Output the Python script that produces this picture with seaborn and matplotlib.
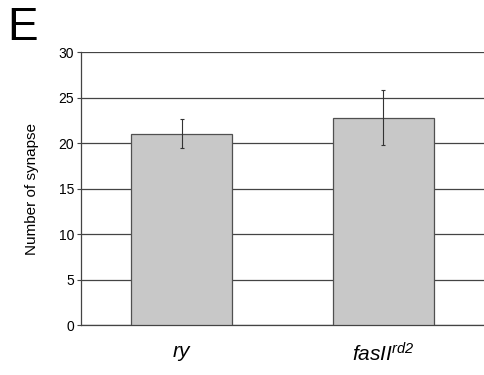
import matplotlib
matplotlib.use("Agg")
import matplotlib.pyplot as plt
import seaborn as sns
import numpy as np

categories = ["ry", "fasII$^{rd2}$"]
means = [21.0, 22.8]
errors = [1.6, 3.0]
yticks = [0, 5, 10, 15, 20, 25, 30]

sns.set_style("white")
plt.rcParams['font.family'] = ['Liberation Sans', 'DejaVu Sans']
plt.rcParams['mathtext.fontset'] = 'custom'
plt.rcParams['mathtext.rm'] = 'Liberation Sans:italic'
plt.rcParams['mathtext.it'] = 'Liberation Sans:italic'
plt.rcParams['text.color'] = 'black'
plt.rcParams['axes.labelcolor'] = 'black'
plt.rcParams['xtick.color'] = 'black'
plt.rcParams['ytick.color'] = 'black'

fig = plt.figure(figsize=(4.84, 3.75), dpi=100)
ax = fig.add_axes([0.167, 0.1333, 0.833, 0.728])

sns.barplot(x=categories, y=means, color="#c8c8c8", edgecolor="#505050",
            linewidth=0.9, width=0.5, errorbar=None, saturation=1, ax=ax, zorder=3)
xs = np.arange(len(categories))
ax.errorbar(xs, means, yerr=errors, fmt="none", ecolor="#333333",
            elinewidth=0.8, capsize=1.5, capthick=0.8, zorder=4)

ax.set_ylim(0, 30)
ax.set_xlim(-0.5, 1.5)
ax.set_yticks(yticks)
ax.yaxis.grid(True, color="#444444", linewidth=0.9, zorder=0)
ax.set_axisbelow(True)
for s in ["top", "right"]:
    ax.spines[s].set_visible(False)
for s in ["left", "bottom"]:
    ax.spines[s].set_color("#444444")
    ax.spines[s].set_linewidth(0.9)
ax.tick_params(axis="y", left=True, length=3, width=0.8, color="#444444",
               labelsize=10, pad=2, labelcolor="black")
ax.tick_params(axis="x", bottom=False, labelsize=15, pad=9, labelcolor="black")
for lab in ax.get_xticklabels():
    lab.set_fontstyle("italic")
ax.set_ylabel("Number of synapse", fontsize=11, labelpad=14, color="black")

fig.text(0.015, 0.985, "E", fontsize=33, va="top", ha="left", color="black")

fig.savefig("out.png", dpi=100)
